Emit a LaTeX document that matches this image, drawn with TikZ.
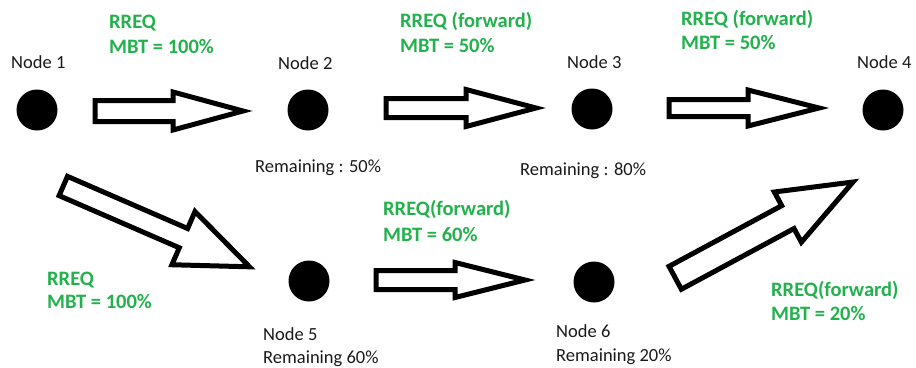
\documentclass[tikz,border=0pt]{standalone}
\usepackage{fontspec}
\setmainfont{Carlito}
\usetikzlibrary{calc}
\definecolor{pgreen}{HTML}{22B14C}
\tikzset{
  arrsw/.store in=\arrsw, arrhw/.store in=\arrhw, arrhl/.store in=\arrhl,
  arrsw=10pt, arrhw=18pt, arrhl=70pt,
  blockarrow/.style={draw=black, fill=white, line width=5pt, line join=miter,
    to path={
      ($(\tikztotarget)!\arrhl!(\tikztostart)$) coordinate (hb)
      ($(\tikztostart)!\arrsw!90:(\tikztotarget)$)
      -- ($(hb)!\arrsw!-90:(\tikztostart)$)
      -- ($(hb)!\arrhw!-90:(\tikztostart)$)
      -- (\tikztotarget)
      -- ($(hb)!\arrhw!90:(\tikztostart)$)
      -- ($(hb)!\arrsw!90:(\tikztostart)$)
      -- ($(\tikztostart)!\arrsw!-90:(\tikztotarget)$)
      -- cycle}},
  dot/.style={circle, fill=black, minimum size=41pt, inner sep=0pt},
  lbl/.style={anchor=base west, inner sep=0pt, text=black!90, font=\fontsize{18.5}{22}\selectfont},
  glbl/.style={anchor=base west, inner sep=0pt, text=pgreen, font=\fontsize{20.5}{24}\selectfont\bfseries}
}
\begin{document}
\begin{tikzpicture}[x=1pt,y=-1pt]
\useasboundingbox (0,0) rectangle (916,367);
% nodes
\node[dot] (n1) at (37,110) {};
\node[dot] (n2) at (308,110) {};
\node[dot] (n3) at (592,109) {};
\node[dot] (n4) at (883,110) {};
\node[dot] (n5) at (309,281) {};
\node[dot] (n6) at (594,282) {};
% arrow end points
\coordinate (a12s) at (95,111);   \coordinate (a12e) at (243,111);
\coordinate (a23s) at (386,108);  \coordinate (a23e) at (536,108);
\coordinate (a34s) at (669,108);  \coordinate (a34e) at (819,108);
\coordinate (a56s) at (376,280);  \coordinate (a56e) at (525,280);
\coordinate (a15s) at (63.3,186); \coordinate (a15e) at (249.5,266.8);
\coordinate (a64s) at (675.2,277.8); \coordinate (a64e) at (853,182);
% arrows
\draw[blockarrow, arrsw=10.5pt, arrhw=19pt, arrhl=70pt] (a12s) to (a12e);
\draw[blockarrow, arrsw=9.5pt, arrhw=18.5pt, arrhl=70pt] (a23s) to (a23e);
\draw[blockarrow, arrsw=8.5pt, arrhw=18pt, arrhl=71pt] (a34s) to (a34e);
\draw[blockarrow, arrsw=9.5pt, arrhw=17.5pt, arrhl=70pt] (a56s) to (a56e);
\draw[blockarrow, arrsw=10.5pt, arrhw=29pt, arrhl=72pt] (a15s) to (a15e);
\draw[blockarrow, arrsw=13pt, arrhw=28.5pt, arrhl=74pt] (a64s) to (a64e);
% black labels
\node[lbl] (t1) at (11,68) {Node 1};
\node[lbl] (t2) at (278,69) {Node 2};
\node[lbl] (t3) at (567,68) {Node 3};
\node[lbl] (t4) at (857,68) {Node 4};
\node[lbl] (r2) at (255,172) {Remaining : 50\%};
\node[lbl] (r3) at (520,175) {Remaining : 80\%};
\node[lbl] (t5) at (263,340) {Node 5};
\node[lbl] (r5) at (263,363) {Remaining 60\%};
\node[lbl] (t6) at (556,337) {Node 6};
\node[lbl] (r6) at (556,361) {Remaining 20\%};
% green labels
\node[glbl] (g1a) at (109,28) {RREQ};
\node[glbl] (g1b) at (109,53) {MBT = 100\%};
\node[glbl] (g2a) at (400,27) {RREQ (forward)};
\node[glbl] (g2b) at (400,52) {MBT = 50\%};
\node[glbl] (g3a) at (681,25) {RREQ (forward)};
\node[glbl] (g3b) at (681,49) {MBT = 50\%};
\node[glbl] (g4a) at (383,215) {RREQ(forward)};
\node[glbl] (g4b) at (383,241) {MBT = 60\%};
\node[glbl] (g5a) at (47,285) {RREQ};
\node[glbl] (g5b) at (47,308) {MBT = 100\%};
\node[glbl] (g6a) at (771,296) {RREQ(forward)};
\node[glbl] (g6b) at (771,320) {MBT = 20\%};
\end{tikzpicture}
\end{document}
